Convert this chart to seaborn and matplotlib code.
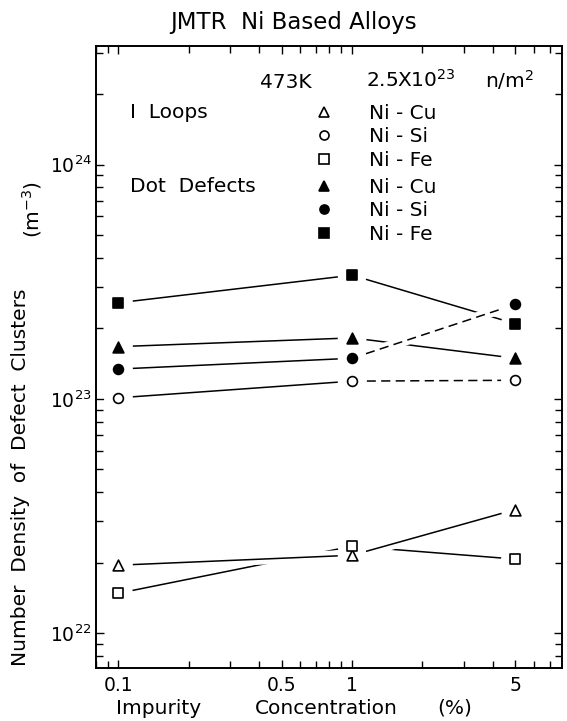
import matplotlib
matplotlib.use('Agg')
import matplotlib.pyplot as plt
import matplotlib.patheffects as pe
from matplotlib.lines import Line2D
from matplotlib.ticker import FixedLocator, FixedFormatter, LogLocator, NullFormatter
import pandas as pd
import seaborn as sns

# concentrations (%) and number densities (m^-3)
conc = [0.1, 1, 5]
loop_cu = [1.95e22, 2.15e22, 3.37e22]
loop_si = [1.01e23, 1.19e23, 1.20e23]
loop_fe = [1.48e22, 2.35e22, 2.07e22]
dot_cu = [1.67e23, 1.82e23, 1.49e23]
dot_si = [1.34e23, 1.49e23, 2.53e23]
dot_fe = [2.57e23, 3.37e23, 2.09e23]

alloys = ['Ni - Cu', 'Ni - Si', 'Ni - Fe']
alloy_markers = ['^', 'o', 's']
x_ticks = [0.1, 0.5, 1, 5]
x_ticklabels = ['0.1', '0.5', '1', '5']
y_ticks = [1e22, 1e23, 1e24]
y_ticklabels = [r'$\mathregular{10^{22}}$', r'$\mathregular{10^{23}}$', r'$\mathregular{10^{24}}$']

sns.set_style('ticks')
plt.rcParams['font.family'] = ['DejaVu Sans']
plt.rcParams['mathtext.default'] = 'regular'
for key in ['text.color', 'axes.labelcolor', 'xtick.color', 'ytick.color', 'axes.edgecolor']:
    plt.rcParams[key] = 'black'
FS = 14.5   # annotation text
TS = 13.5   # tick labels

fig = plt.figure(figsize=(5.67, 7.21), dpi=100)
ax = fig.add_axes([0.169, 0.0735, 0.822, 0.8625])
ax.set_xscale('log')
ax.set_yscale('log')

# (values, marker, filled, dashed segment, white halo on line)
series = [
    (loop_cu, '^', False, None, True),
    (loop_si, 'o', False, 1, False),
    (loop_fe, 's', False, None, False),
    (dot_cu, '^', True, None, False),
    (dot_si, 'o', True, 1, False),
    (dot_fe, 's', True, None, False),
]

for vals, m, filled, dash_seg, halo in series:
    for i in range(2):
        seg = pd.DataFrame({'x': conc[i:i + 2], 'y': vals[i:i + 2]})
        kw = dict(color='k', lw=1.1, zorder=2)
        if dash_seg == i:
            kw['dashes'] = (6, 3.5)
            kw['zorder'] = 2.6
            # white underlay so crossed lines get broken like the hand drawing
            if filled:
                sns.lineplot(data=seg, x='x', y='y', ax=ax, color='white', lw=7, zorder=2.5)
        if halo:
            kw['zorder'] = 2.7
            kw['path_effects'] = [pe.Stroke(linewidth=8, foreground='white'), pe.Normal()]
        sns.lineplot(data=seg, x='x', y='y', ax=ax, **kw)
    # white ring gives the gap between line ends and markers
    sns.scatterplot(x=conc, y=vals, ax=ax, marker='o', s=430, color='white',
                    edgecolor='none', zorder=3, legend=False)
    sns.scatterplot(x=conc, y=vals, ax=ax, marker=m, s=50 if m != '^' else 60,
                    color='k' if filled else 'white', edgecolor='k', linewidth=1.2,
                    zorder=4, legend=False)

ax.set_xlim(0.08, 7.9)
ax.set_ylim(7.1e21, 3.2e24)

ax.xaxis.set_major_locator(FixedLocator(x_ticks))
ax.xaxis.set_major_formatter(FixedFormatter(x_ticklabels))
ax.xaxis.set_minor_locator(LogLocator(base=10, subs=range(1, 10), numticks=20))
ax.xaxis.set_minor_formatter(NullFormatter())
ax.yaxis.set_major_locator(FixedLocator(y_ticks))
ax.yaxis.set_major_formatter(FixedFormatter(y_ticklabels))
ax.yaxis.set_minor_locator(LogLocator(base=10, subs=range(2, 10), numticks=20))
ax.yaxis.set_minor_formatter(NullFormatter())

ax.tick_params(which='both', direction='in', top=True, right=True, width=1.0, color='k')
ax.tick_params(which='major', length=6)
ax.tick_params(which='minor', length=5)
ax.tick_params(axis='x', which='major', pad=6, labelsize=TS)
ax.tick_params(axis='y', which='major', pad=3, labelsize=TS)
for sp in ax.spines.values():
    sp.set_linewidth(1.4)
ax.set_xlabel('')
ax.set_ylabel('')

# annotations inside the frame
ax.text(0.408, 0.942, '473K', transform=ax.transAxes, ha='center', va='center', fontsize=FS)
ax.text(0.58, 0.945, r'2.5X10$^{23}$', transform=ax.transAxes, ha='left',
        va='center', fontsize=FS)
ax.text(0.835, 0.945, r'n/m$^{2}$', transform=ax.transAxes, ha='left',
        va='center', fontsize=FS)
ax.text(0.074, 0.894, 'I  Loops', transform=ax.transAxes, ha='left', va='center', fontsize=FS)
ax.text(0.074, 0.775, 'Dot  Defects', transform=ax.transAxes, ha='left', va='center', fontsize=FS)


def handles(filled):
    return [Line2D([], [], ls='none', marker=m, ms=6.5 if m != '^' else 7,
                   mfc='k' if filled else 'white', mec='k', mew=1.2)
            for m in alloy_markers]


leg_kw = dict(loc='upper left', frameon=False, fontsize=FS, borderpad=0, borderaxespad=0,
              handlelength=1.0, handletextpad=1.75, labelspacing=0.22)
leg1 = ax.legend(handles(False), alloys, bbox_to_anchor=(0.468, 0.907), **leg_kw)
ax.add_artist(leg1)
ax.legend(handles(True), alloys, bbox_to_anchor=(0.468, 0.788), **leg_kw)

# titles and axis labels
fig.text(0.517, 0.969, 'JMTR  Ni Based Alloys', ha='center', va='center', fontsize=FS + 2)
fig.text(0.036, 0.338, 'Number  Density  of  Defect  Clusters', rotation=90,
         ha='center', va='center', fontsize=FS)
fig.text(0.056, 0.709, r'(m$^{-3}$)', rotation=90, ha='center', va='center', fontsize=FS)
fig.text(0.279, 0.018, 'Impurity', ha='center', va='center', fontsize=FS)
fig.text(0.575, 0.018, 'Concentration', ha='center', va='center', fontsize=FS)
fig.text(0.802, 0.018, '(%)', ha='center', va='center', fontsize=FS)

fig.savefig('out.png', dpi=100)
